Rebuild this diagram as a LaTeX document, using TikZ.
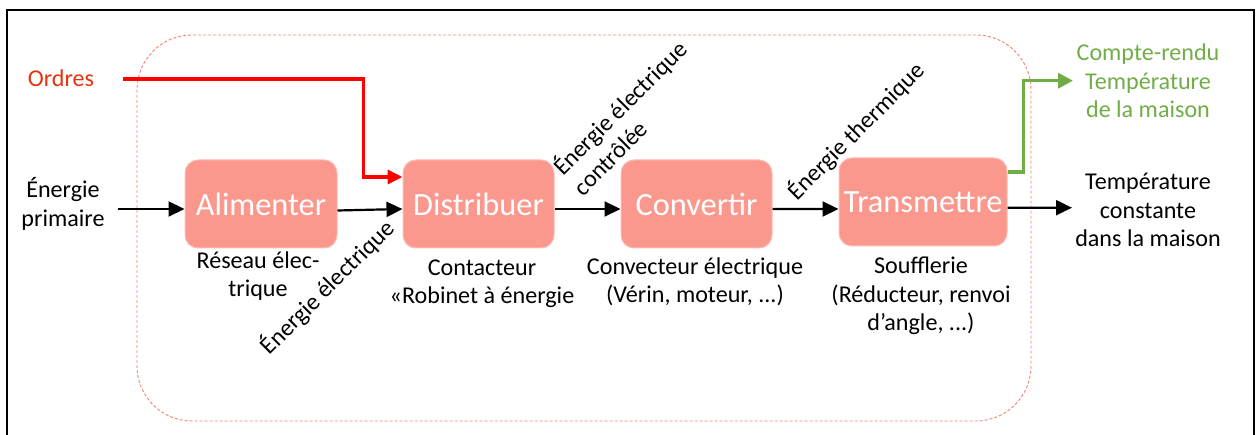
\documentclass[tikz,border=0pt]{standalone}
\usepackage{fontspec}
\setmainfont{Carlito}
\usetikzlibrary{arrows.meta}

\definecolor{boxfill}{RGB}{250,152,142}
\definecolor{boxedge}{RGB}{252,188,178}
\definecolor{limitcol}{RGB}{240,130,110}
\definecolor{ordercol}{RGB}{232,50,15}
\definecolor{reportcol}{RGB}{112,173,71}

\tikzset{
  fn/.style={rounded corners=13bp, fill=boxfill, draw=boxedge, line width=1bp,
    text=white, inner sep=0pt, minimum height=88bp,
    font=\fontsize{32.5}{38}\selectfont},
  lbl/.style={align=center, inner sep=0pt, font=\fontsize{24.2}{28.6}\selectfont},
  diag/.style={lbl, rotate=45},
  flow/.style={line width=2.2bp, -{Triangle[length=16bp,width=15bp]}},
  orderflow/.style={line width=3.6bp, red, -{Triangle[length=15bp,width=14bp]}},
  reportflow/.style={line width=3.6bp, reportcol, -{Triangle[length=15bp,width=15bp]}},
  limit/.style={draw=limitcol, line width=0.9bp, dash pattern=on 3bp off 2bp,
    rounded corners=55bp},
}

\begin{document}
\begin{tikzpicture}[x=1bp, y=-1bp]
  \useasboundingbox (0,0) rectangle (1258,435);

  % outer frame (open at the bottom)
  \begin{scope}
    \clip (0,0) rectangle (1258,435);
    \draw[line width=2.2bp] (7,445) -- (7,10) -- (1254,10) -- (1254,445);
  \end{scope}

  % system boundary
  \draw[limit] (137,35) rectangle (1031,421);

  % functions
  \node[fn, minimum width=152bp] (ali) at (261,204) {Alimenter};
  \node[fn, minimum width=151bp] (dis) at (478.5,204) {Distribuer};
  \node[fn, minimum width=151bp] (con) at (696.5,204) {Convertir};
  \node[fn, minimum width=168bp] (tra) at (923,202) {Transmettre};

  % inputs and outputs
  \node[lbl, text=ordercol] (ord) at (61,78) {Ordres};
  \node[lbl] (ep) at (63,204) {Énergie\\primaire};
  \node[lbl, text=reportcol] (cr) at (1148,81) {Compte-rendu\\Température\\de la maison};
  \node[lbl] (temp) at (1148,210) {Température\\constante\\dans la maison};

  % components
  \node[lbl] (c1) at (258,276) {Réseau élec-\\trique};
  \node[lbl] (c2) at (482,284) {Contacteur\\«Robinet à énergie};
  \node[lbl] (c3) at (695,282) {Convecteur électrique\\(Vérin, moteur, ...)};
  \node[lbl] (c4) at (921,296) {Soufflerie\\(Réducteur, renvoi\\d’angle, ...)};

  % energy labels
  \node[diag] (e1) at (327,287) {Énergie électrique};
  \node[diag, align=left] (e2) at (629,117) {Énergie électrique\\contrôlée};
  \node[diag] (e3) at (856,131) {Énergie thermique};

  % energy chain
  \coordinate (epout) at (118,209);
  \coordinate (tempin) at (1072,207.7);
  \draw[flow] (epout) -- (epout -| ali.west);
  \draw[flow] ([yshift=-6.5bp]ali.east) -- ([yshift=-5bp]dis.west);
  \draw[flow] ([yshift=-5bp]dis.east) -- ([yshift=-5bp]con.west);
  \draw[flow] ([yshift=-5bp]con.east) -- ([yshift=-7bp]tra.west);
  \draw[flow] ([yshift=-5.7bp]tra.east) -- (tempin);

  % orders
  \coordinate (ordout) at (123,79);
  \draw[orderflow] (ordout) -| ([xshift=-39bp,yshift=27bp]dis.west)
    -- ([yshift=27bp]dis.west);

  % report
  \coordinate (crin) at (1073,80.7);
  \draw[reportflow] ([yshift=30bp]tra.east) -- ++(16,0) |- (crin);
\end{tikzpicture}
\end{document}
